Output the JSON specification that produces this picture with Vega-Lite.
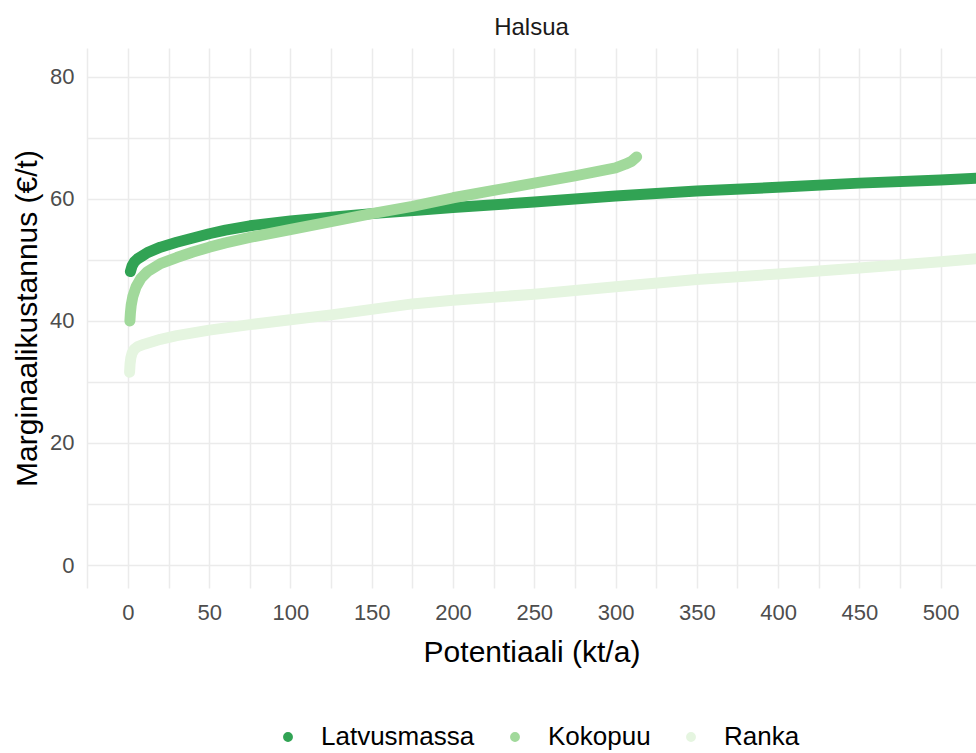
{
 "$schema": "https://vega.github.io/schema/vega-lite/v6.json",
 "width": 889, "height": 540,
 "autosize": {"type": "none"},
 "padding": {"left": 87, "top": 48, "right": 0, "bottom": 165},
 "background": "white",
 "title": {"text": "Halsua", "fontSize": 24, "font": "Liberation Sans", "fontWeight": "normal", "color": "#1a1a1a", "anchor": "middle", "offset": 8},
 "data": {"values": [
  {"s":"Latvusmassa","x":1.5,"y":48.1},{"s":"Latvusmassa","x":2.5,"y":49.0},{"s":"Latvusmassa","x":4,"y":49.7},{"s":"Latvusmassa","x":6,"y":50.2},{"s":"Latvusmassa","x":9,"y":50.7},{"s":"Latvusmassa","x":12,"y":51.2},{"s":"Latvusmassa","x":20,"y":52.1},{"s":"Latvusmassa","x":30,"y":52.9},{"s":"Latvusmassa","x":40,"y":53.6},{"s":"Latvusmassa","x":50,"y":54.3},{"s":"Latvusmassa","x":60,"y":54.9},{"s":"Latvusmassa","x":75,"y":55.6},{"s":"Latvusmassa","x":100,"y":56.4},{"s":"Latvusmassa","x":125,"y":57.0},{"s":"Latvusmassa","x":150,"y":57.6},{"s":"Latvusmassa","x":180,"y":58.2},{"s":"Latvusmassa","x":200,"y":58.6},{"s":"Latvusmassa","x":250,"y":59.5},{"s":"Latvusmassa","x":300,"y":60.5},{"s":"Latvusmassa","x":350,"y":61.3},{"s":"Latvusmassa","x":406,"y":62.0},{"s":"Latvusmassa","x":450,"y":62.6},{"s":"Latvusmassa","x":500,"y":63.1},{"s":"Latvusmassa","x":522,"y":63.4},
  {"s":"Kokopuu","x":1.2,"y":40.0},{"s":"Kokopuu","x":1.5,"y":41.3},{"s":"Kokopuu","x":2,"y":42.6},{"s":"Kokopuu","x":3,"y":44.0},{"s":"Kokopuu","x":5,"y":45.6},{"s":"Kokopuu","x":8,"y":47.0},{"s":"Kokopuu","x":12,"y":48.1},{"s":"Kokopuu","x":20,"y":49.4},{"s":"Kokopuu","x":30,"y":50.4},{"s":"Kokopuu","x":40,"y":51.3},{"s":"Kokopuu","x":50,"y":52.1},{"s":"Kokopuu","x":60,"y":52.8},{"s":"Kokopuu","x":75,"y":53.7},{"s":"Kokopuu","x":100,"y":55.0},{"s":"Kokopuu","x":125,"y":56.3},{"s":"Kokopuu","x":150,"y":57.6},{"s":"Kokopuu","x":175,"y":58.8},{"s":"Kokopuu","x":200,"y":60.2},{"s":"Kokopuu","x":225,"y":61.4},{"s":"Kokopuu","x":250,"y":62.6},{"s":"Kokopuu","x":275,"y":63.8},{"s":"Kokopuu","x":300,"y":65.1},{"s":"Kokopuu","x":306,"y":65.7},{"s":"Kokopuu","x":310,"y":66.2},{"s":"Kokopuu","x":313,"y":66.9},
  {"s":"Ranka","x":1,"y":31.6},{"s":"Ranka","x":1.3,"y":33.0},{"s":"Ranka","x":1.8,"y":34.0},{"s":"Ranka","x":2.5,"y":34.7},{"s":"Ranka","x":4,"y":35.4},{"s":"Ranka","x":6,"y":35.8},{"s":"Ranka","x":10,"y":36.2},{"s":"Ranka","x":15,"y":36.6},{"s":"Ranka","x":20,"y":37.0},{"s":"Ranka","x":30,"y":37.6},{"s":"Ranka","x":50,"y":38.5},{"s":"Ranka","x":75,"y":39.4},{"s":"Ranka","x":100,"y":40.2},{"s":"Ranka","x":125,"y":41.0},{"s":"Ranka","x":150,"y":41.9},{"s":"Ranka","x":175,"y":42.8},{"s":"Ranka","x":200,"y":43.4},{"s":"Ranka","x":250,"y":44.4},{"s":"Ranka","x":300,"y":45.6},{"s":"Ranka","x":350,"y":46.8},{"s":"Ranka","x":400,"y":47.7},{"s":"Ranka","x":450,"y":48.7},{"s":"Ranka","x":500,"y":49.7},{"s":"Ranka","x":522,"y":50.2}
 ]},
 "encoding": {
  "x": {"field": "x", "type": "quantitative",
        "scale": {"domain": [-25.2, 521.8], "nice": false, "zero": false},
        "axis": {"values": [-25,0,25,50,75,100,125,150,175,200,225,250,275,300,325,350,375,400,425,450,475,500],
                 "labelExpr": "datum.value % 50 === 0 ? datum.label : ''",
                 "title": "Potentiaali (kt/a)", "labelPadding": 14, "titlePadding": 14}},
  "y": {"field": "y", "type": "quantitative",
        "scale": {"domain": [-3.77, 84.75], "nice": false, "zero": false},
        "axis": {"values": [0,10,20,30,40,50,60,70,80],
                 "labelExpr": "datum.value % 20 === 0 ? datum.label : ''",
                 "title": "Marginaalikustannus (€/t)", "labelPadding": 13, "titlePadding": 7}}
 },
 "layer": [
  {"mark": {"type": "point", "filled": true, "size": 60, "opacity": 1},
   "encoding": {"color": {"field": "s", "type": "nominal",
      "scale": {"domain": ["Latvusmassa","Kokopuu","Ranka"], "range": ["#31a354","#a1d99b","#e5f5e0"]},
      "legend": {"title": null, "orient": "none", "legendX": 188, "legendY": 676, "direction": "horizontal", "symbolType": "circle", "symbolSize": 70, "labelOffset": 20, "columnPadding": 27}}}},
  {"mark": {"type": "line", "strokeWidth": 11, "strokeCap": "round", "strokeJoin": "round"},
   "encoding": {"stroke": {"field": "s", "type": "nominal",
      "scale": {"domain": ["Latvusmassa","Kokopuu","Ranka"], "range": ["#31a354","#a1d99b","#e5f5e0"]},
      "legend": null}}}
 ],
 "config": {
  "view": {"stroke": null},
  "font": "Liberation Sans",
  "axis": {"domain": false, "ticks": false, "tickSize": 0, "grid": true, "gridColor": "#ebebeb", "gridWidth": 1.5,
           "labelFont": "Liberation Sans", "labelFontSize": 22, "labelColor": "#4d4d4d", "labelOverlap": false, "labelFlush": false,
           "titleFont": "Liberation Sans", "titleFontSize": 30, "titleFontWeight": "normal", "titleColor": "#000000"},
  "legend": {"labelFont": "Liberation Sans", "labelFontSize": 26, "labelColor": "#000000"}
 }
}
